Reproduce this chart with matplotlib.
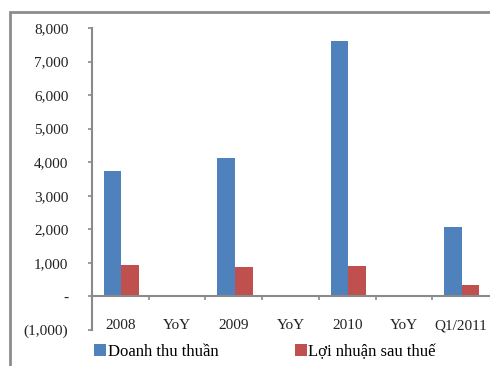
import numpy as np
import matplotlib
matplotlib.use("Agg")
import matplotlib.pyplot as plt
from matplotlib.patches import Rectangle
from matplotlib.ticker import FuncFormatter

# Doanh thu thuan / loi nhuan sau thue (ty dong)
categories = ["2008", "YoY", "2009", "YoY", "2010", "YoY", "Q1/2011"]
doanh_thu = [3740, 0, 4130, 0, 7600, 0, 2070]
loi_nhuan = [950, 0, 870, 0, 920, 0, 350]
y_ticks = [-1000, 0, 1000, 2000, 3000, 4000, 5000, 6000, 7000, 8000]

plt.rcParams['font.family'] = ['Liberation Serif', 'DejaVu Serif']

blue = '#4F81BD'
red = '#C0504D'
axis_grey = '#8a8a8a'
fs = 11

fig = plt.figure(figsize=(4.9, 3.66), dpi=100)
ax = fig.add_axes([92/490, 1 - 330/366, 397/490, (330 - 28)/366])

x = np.arange(len(categories))
w = 0.31
ax.bar(x - w/2 + 0.02, doanh_thu, width=w, color=blue, label='Doanh thu thuần')
ax.bar(x + w/2 + 0.02, loi_nhuan, width=w, color=red, label='Lợi nhuận sau thuế')

ax.set_xlim(-0.5, len(categories) - 0.5)
ax.set_ylim(-1000, 8000)
ax.set_yticks(y_ticks)

def money(v, pos):
    if v == 0:
        return '-'
    if v < 0:
        return '({:,.0f})'.format(-v)
    return '{:,.0f}'.format(v)

ax.yaxis.set_major_formatter(FuncFormatter(money))
ax.tick_params(axis='y', length=3, width=1.2, color=axis_grey, labelsize=fs,
               labelcolor='#222222', pad=14)

# category axis sits on zero, labels stay at the bottom
ax.spines['bottom'].set_position(('data', 0))
ax.spines['bottom'].set_color(axis_grey)
ax.spines['bottom'].set_linewidth(1.5)
ax.spines['left'].set_color(axis_grey)
ax.spines['left'].set_linewidth(1.5)
ax.spines['top'].set_visible(False)
ax.spines['right'].set_visible(False)

ax.set_xticks(x[:-1] + 0.5)
ax.set_xticklabels([])
ax.tick_params(axis='x', length=3, width=1.2, color=axis_grey, direction='out')

for i, lab in enumerate(categories):
    ax.text(i, -1000 + 130, lab, ha='center', va='center', fontsize=fs,
            color='#222222')

fig.legend(loc='center', bbox_to_anchor=(265/490, 1 - 352/366), ncol=2,
           frameon=False, fontsize=12, handlelength=0.7, handleheight=0.7,
           handletextpad=0.1, columnspacing=4.6, borderaxespad=0)

# outer frame; its right and bottom edges fall outside the image
frame = Rectangle((10/490, -0.5), 2.0, 0.5 + 1 - 12/366,
                  transform=fig.transFigure, fill=False,
                  ec='#8c8c8c', lw=2, clip_on=False)
fig.add_artist(frame)

fig.savefig('out.png', dpi=100)
